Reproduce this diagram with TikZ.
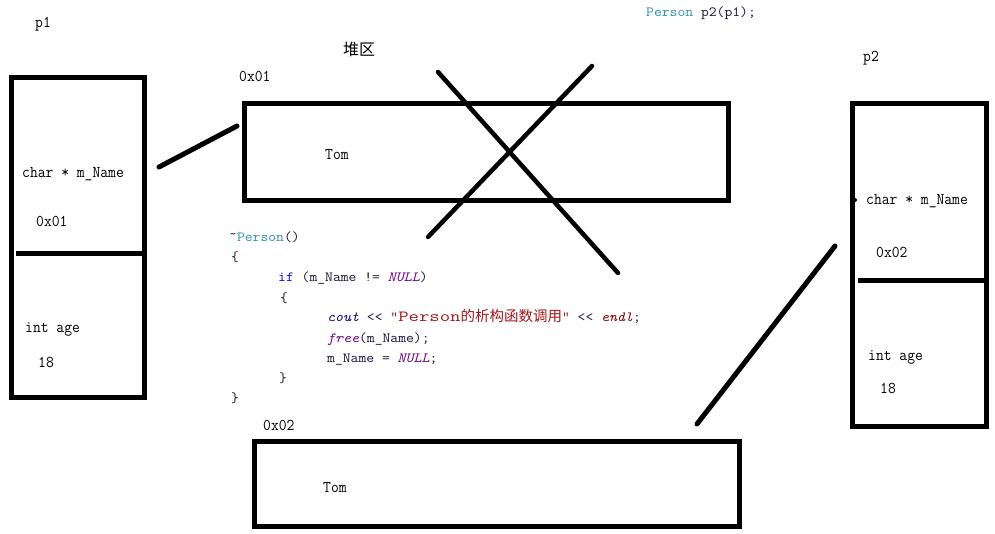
\documentclass[tikz,border=0pt]{standalone}
\usepackage{fontspec}
\newfontfamily\lblfont{Latin Modern Mono}[FakeStretch=0.92]
\newfontfamily\codefont{Latin Modern Mono}[FakeStretch=1.086]
\newfontfamily\strfont{Latin Modern Mono}[FakeStretch=1.3]
\newfontfamily\cjk{Noto Sans CJK SC}
\definecolor{cplain}{HTML}{15153A}
\definecolor{cteal}{HTML}{2B91AF}
\definecolor{cblue}{HTML}{0000FF}
\definecolor{cpurple}{HTML}{6F008A}
\definecolor{cnavy}{HTML}{000080}
\definecolor{cstr}{HTML}{A31515}
\definecolor{cendl}{HTML}{880000}
\tikzset{
  membox/.style={draw, line width=5pt, inner sep=0pt},
  lbl/.style={inner sep=0pt, anchor=base west, font=\lblfont\fontsize{16.5}{16.5}\selectfont},
  cjklbl/.style={inner sep=0pt, anchor=base west, font=\cjk\fontsize{16}{16}\selectfont},
  codeln/.style={inner sep=0pt, anchor=base west, text=cplain, font=\codefont\fontsize{14}{14}\selectfont},
  wire/.style={line width=5pt, line cap=round},
  divider/.style={line width=5pt},
  crossline/.style={line width=4.5pt, line cap=round}
}
\begin{document}
\begin{tikzpicture}[x=1pt,y=-1pt]
\useasboundingbox (0,0) rectangle (995,534);

% memory boxes
\node[membox, minimum width=133, minimum height=320] (p1) at (78,237.5) {};
\node[membox, minimum width=483.5, minimum height=97] (heapA) at (486.25,152) {};
\node[membox, minimum width=485, minimum height=85.5] (heapB) at (496.5,483.75) {};
\node[membox, minimum width=133.5, minimum height=323] (p2) at (919.25,265) {};

% dividers
\coordinate (d1) at (16,254);
\draw[divider] (d1) -- (d1 -| p1.east);
\coordinate (d2) at (858,280.5);
\draw[divider] (d2) -- (d2 -| p2.east);
\fill (855,200) circle[radius=2pt];

% connectors
\coordinate (w1a) at (159,167);
\coordinate (w1b) at (237,126);
\draw[wire] (w1a) -- (w1b);
\coordinate (w2a) at (835,246);
\coordinate (w2b) at (697,424);
\draw[wire] (w2a) -- (w2b);

% cross over heap box
\coordinate (xa1) at (438,72);
\coordinate (xa2) at (618,273);
\coordinate (xb1) at (428,237);
\coordinate (xb2) at (592,66);
\draw[crossline] (xa1) -- (xa2);
\draw[crossline] (xb1) -- (xb2);

% labels
\node[lbl] (tp1) at (35,28) {p1};
\node[lbl] (t1a) at (22,178) {char * m\_Name};
\node[lbl] (t1b) at (36,227) {0x01};
\node[lbl] (t1c) at (25,333) {int age};
\node[lbl] (t1d) at (38,367) {18};

\node[cjklbl] (theap) at (343,56) {堆区};
\node[lbl] (tha) at (239,82) {0x01};
\node[lbl] (thb) at (325,160) {Tom};

\node[lbl] (thc) at (263,430) {0x02};
\node[lbl] (thd) at (323,492) {Tom};

\node[lbl] (tp2) at (863,62) {p2};
\node[lbl] (t2a) at (866,205) {char * m\_Name};
\node[lbl] (t2b) at (876,258) {0x02};
\node[lbl] (t2c) at (868,360) {int age};
\node[lbl] (t2d) at (880,393) {18};

% code
\node[codeln] (cp2) at (646,17) {\textcolor{cteal}{Person} p2(p1);};
\node[codeln] (c1) at (229,242) {\raisebox{3pt}{\textasciitilde}\textcolor{cteal}{Person}()};
\node[codeln] (c2) at (231,262) {\{};
\node[codeln] (c3) at (278,282) {\textcolor{cblue}{if} (m\_Name != \textcolor{cpurple}{\itshape NULL})};
\node[codeln] (c4) at (280,302) {\{};
\node[codeln] (c5) at (327,322) {\textcolor{cnavy}{\itshape cout} <{}< {\color{cstr}”{\strfont\fontsize{15.5}{15.5}\selectfont Person}{\cjk\fontsize{14.5}{14.5}\selectfont 的析构函数调用}”} <{}< \textcolor{cendl}{\itshape endl};};
\node[codeln] (c6) at (327,342) {\textcolor{cpurple}{\itshape free}(m\_Name);};
\node[codeln] (c7) at (327,362) {m\_Name = \textcolor{cpurple}{\itshape NULL};};
\node[codeln] (c8) at (279,382) {\}};
\node[codeln] (c9) at (231,402) {\}};
\end{tikzpicture}
\end{document}
